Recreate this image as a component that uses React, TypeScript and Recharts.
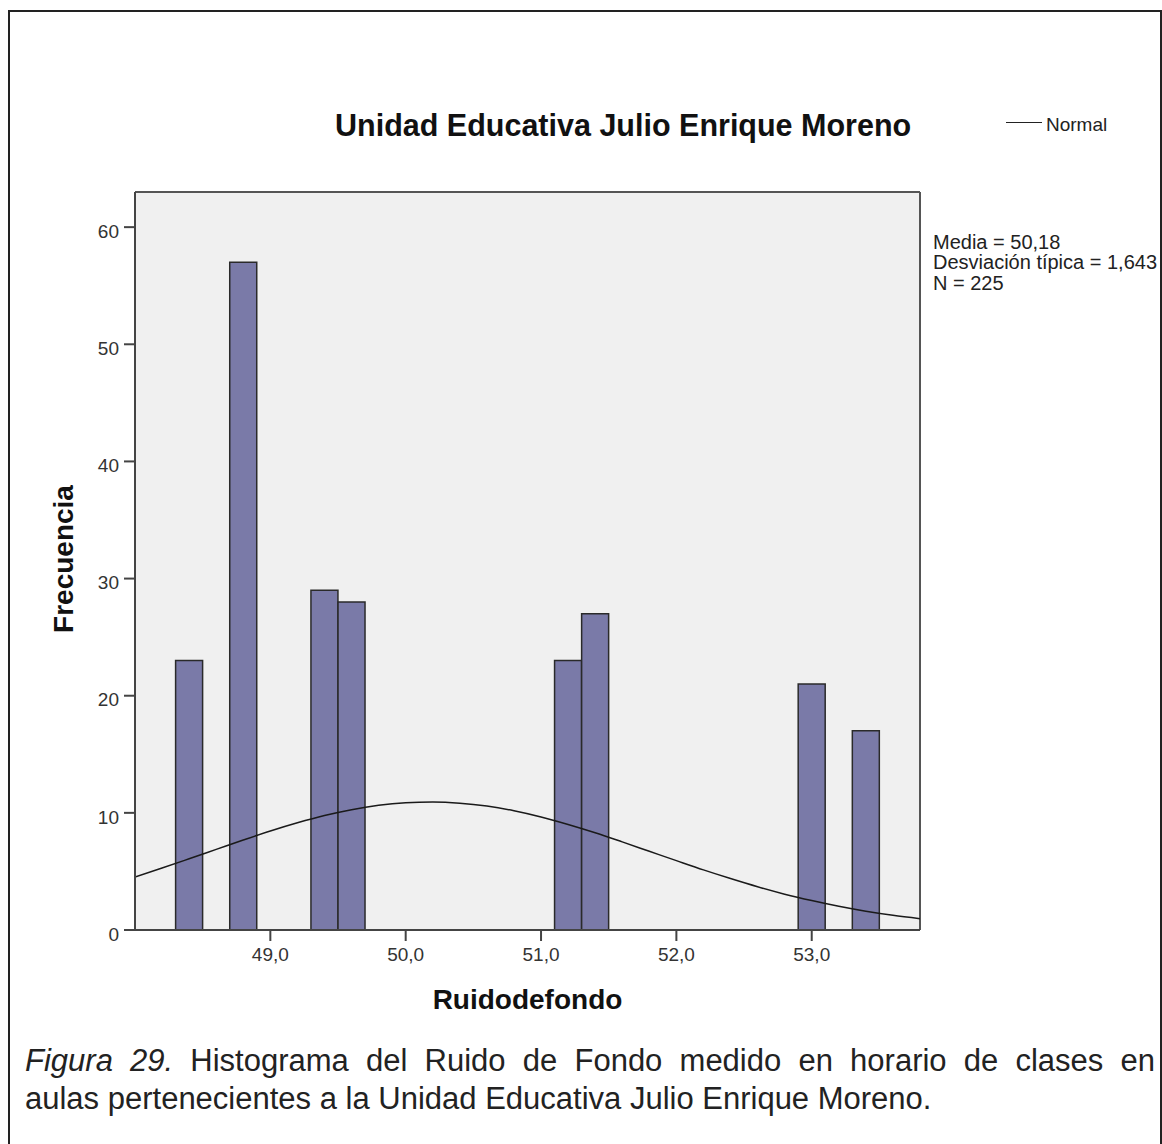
import React from 'react';
import { ComposedChart, Bar, Line, XAxis, YAxis, CartesianGrid, ReferenceLine } from 'recharts';

// histogram bins (width 0.2), centers and counts
const binCenters = [48.4, 48.8, 49.4, 49.6, 51.2, 51.4, 53.0, 53.4];
const binCounts = [23, 57, 29, 28, 23, 27, 21, 17];

// fitted normal curve, read at every 0.2 along the axis
const curveX = [
  48.0, 48.2, 48.4, 48.6, 48.8, 49.0, 49.2, 49.4, 49.6, 49.8,
  50.0, 50.2, 50.4, 50.6, 50.8, 51.0, 51.2, 51.4, 51.6, 51.8,
  52.0, 52.2, 52.4, 52.6, 52.8, 53.0, 53.2, 53.4, 53.6, 53.8,
];
const curveY = [
  4.53, 5.29, 6.08, 6.88, 7.68, 8.45, 9.15, 9.77, 10.27, 10.64,
  10.86, 10.93, 10.83, 10.58, 10.18, 9.65, 9.01, 8.3, 7.52, 6.72,
  5.92, 5.13, 4.39, 3.69, 3.06, 2.51, 2.02, 1.6, 1.25, 0.97,
];

const xTicks = [49, 50, 51, 52, 53];
const yTicks = [0, 10, 20, 30, 40, 50, 60];
const xDomain = [48, 53.8];
const yDomain = [0, 63];

const title = 'Unidad Educativa Julio Enrique Moreno';
const statLines = ['Media = 50,18', 'Desviación típica = 1,643', 'N = 225'];

const data = curveX.map((x, i) => {
  const b = binCenters.findIndex((c) => Math.abs(c - x) < 1e-6);
  return { x, normal: curveY[i], freq: b >= 0 ? binCounts[b] : null };
});

const font = '"Liberation Sans", Arial, sans-serif';

export default function App() {
  return (
    <div style={{ position: 'absolute', left: 0, top: 0, width: 1162, height: 1144, overflow: 'hidden', background: '#fff', fontFamily: font }}>
      <div
        style={{
          position: 'absolute', left: 8, top: 10, width: 1154, height: 1134,
          borderTop: '2.5px solid #222', borderLeft: '2.5px solid #222', borderRight: '2.5px solid #222',
          boxSizing: 'border-box',
        }}
      />

      <div style={{ position: 'absolute', left: 335, top: 110, fontSize: 30.5, lineHeight: 1, fontWeight: 'bold', color: '#111', whiteSpace: 'nowrap' }}>
        {title}
      </div>

      {/* legend */}
      <div style={{ position: 'absolute', left: 1006, top: 122, width: 36, borderTop: '1.5px solid #222' }} />
      <div style={{ position: 'absolute', left: 1046, top: 114.6, fontSize: 19, lineHeight: 1, color: '#222' }}>Normal</div>

      {/* stats */}
      <div style={{ position: 'absolute', left: 933, top: 231.7, fontSize: 20, lineHeight: '20.8px', color: '#222', whiteSpace: 'nowrap' }}>
        {statLines.map((s) => (
          <div key={s}>{s}</div>
        ))}
      </div>

      <div style={{ position: 'absolute', left: 0, top: 0 }}>
        <ComposedChart
          width={1162}
          height={1000}
          data={data}
          margin={{ top: 192, right: 242, bottom: 30, left: 75 }}
          barCategoryGap={0}
          barGap={0}
        >
          <CartesianGrid horizontal={false} vertical={false} fill="#f0f0f0" />
          <XAxis
            dataKey="x"
            type="number"
            domain={xDomain}
            ticks={xTicks}
            allowDataOverflow
            height={40}
            tickSize={11}
            tickMargin={7}
            tickFormatter={(v: number) => v.toFixed(1).replace('.', ',')}
            stroke="#444"
            strokeWidth={2}
            tick={{ fontSize: 19, fill: '#333', fontFamily: font }}
          />
          <YAxis
            type="number"
            domain={yDomain}
            ticks={yTicks}
            allowDataOverflow
            width={60}
            tickSize={11}
            tickMargin={5}
            stroke="#444"
            strokeWidth={2}
            tick={{ fontSize: 19, fill: '#333', fontFamily: font, dy: 4 }}
          />
          <ReferenceLine y={yDomain[1]} stroke="#555" strokeWidth={2} />
          <ReferenceLine x={xDomain[1]} stroke="#555" strokeWidth={2} />
          <Bar dataKey="freq" fill="#7a7aa8" stroke="#2a2a2a" strokeWidth={1.5} isAnimationActive={false} legendType="none" />
          <Line dataKey="normal" name="Normal" type="monotone" stroke="#1a1a1a" strokeWidth={1.5} dot={false} activeDot={false} isAnimationActive={false} />
        </ComposedChart>
      </div>

      <div style={{ position: 'absolute', left: 64, top: 559, transform: 'translate(-50%, -50%) rotate(-90deg)', fontSize: 28, fontWeight: 'bold', color: '#111', whiteSpace: 'nowrap' }}>
        Frecuencia
      </div>
      <div style={{ position: 'absolute', left: 527.5, top: 986.3, transform: 'translateX(-50%)', fontSize: 28, lineHeight: 1, fontWeight: 'bold', color: '#111', whiteSpace: 'nowrap' }}>
        Ruidodefondo
      </div>

      {/* caption */}
      <div style={{ position: 'absolute', left: 25, top: 1042.3, width: 1130, fontSize: 31, lineHeight: '38px', color: '#222' }}>
        <div style={{ textAlign: 'justify', textAlignLast: 'justify', whiteSpace: 'nowrap' }}>
          <i>Figura 29.</i> Histograma del Ruido de Fondo medido en horario de clases en
        </div>
        <div style={{ whiteSpace: 'nowrap' }}>aulas pertenecientes a la Unidad Educativa Julio Enrique Moreno.</div>
      </div>
    </div>
  );
}
